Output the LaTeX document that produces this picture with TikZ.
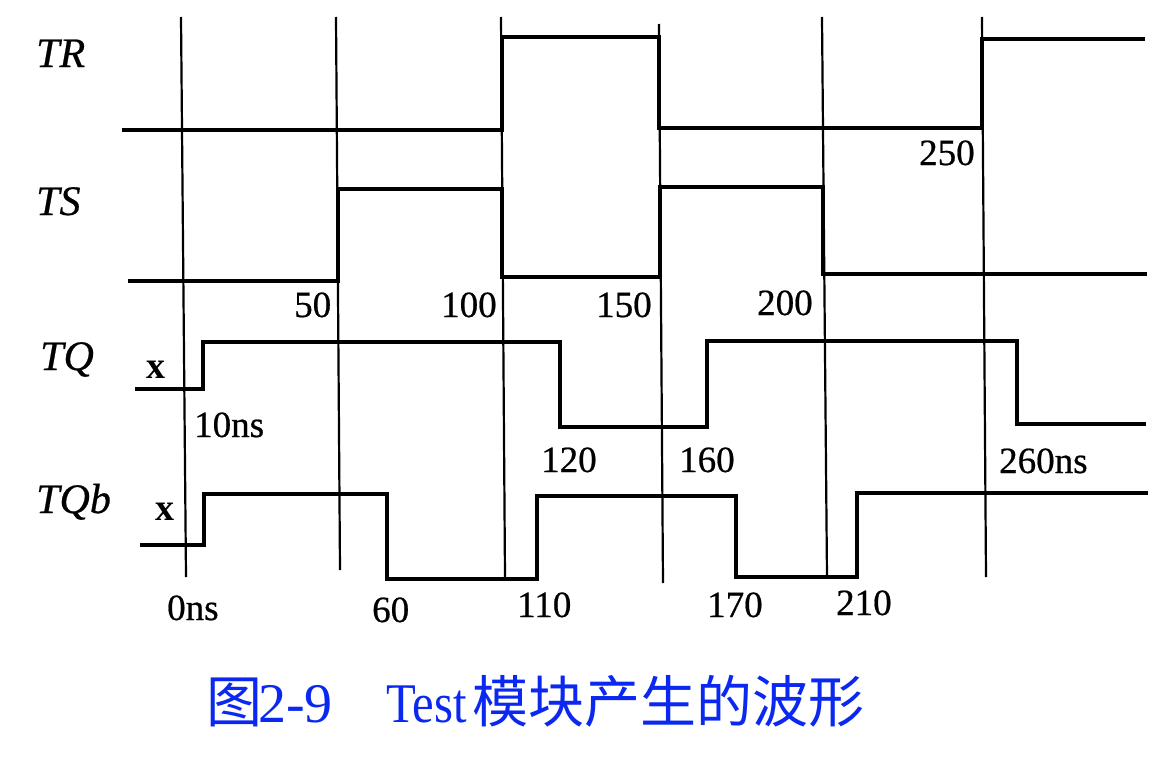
\documentclass[tikz,border=0pt]{standalone}
\usepackage{fontspec}
\setmainfont{Liberation Serif}
\newfontfamily\cjk{Noto Sans CJK SC}
\newfontfamily\lblfont[FakeBold=0.6]{Liberation Serif}
\newfontfamily\capserif{Liberation Serif}
\definecolor{capblue}{RGB}{10,40,240}
\tikzset{
  wave/.style={line width=3.6pt, line join=miter, line cap=butt},
  gridline/.style={line width=2.2pt},
  siglabel/.style={inner sep=0pt, anchor=base west, font=\fontsize{42}{46}\selectfont\lblfont\itshape},
  tlabel/.style={inner sep=0pt, anchor=base west, font=\fontsize{37}{40}\selectfont\lblfont},
  xlabel/.style={inner sep=0pt, anchor=base west, font=\fontsize{38}{40}\selectfont\bfseries},
  caplabel/.style={inner sep=0pt, anchor=base west, text=capblue}
}
\begin{document}
\begin{tikzpicture}[x=1pt,y=-1pt]
\useasboundingbox (0,0) rectangle (1176,768);
% grid lines (slightly slanted as in the scan)
\draw[gridline] (181,17) -- (186,577);
\draw[gridline] (336,17) -- (340,570);
\draw[gridline] (501,17) -- (505,577);
\draw[gridline] (659,24) -- (663,583);
\draw[gridline] (822,17) -- (827,577);
\draw[gridline] (982,17) -- (986,577);
% TR
\draw[wave] (122,130) -- (502,130) -- (502,37) -- (659,37) -- (659,128) -- (982,128) -- (982,39) -- (1145,39);
% TS
\draw[wave] (128,281) -- (338,281) -- (338,189) -- (502,189) -- (502,277) -- (660,277) -- (660,187) -- (823,187) -- (823,274) -- (1147,274);
% TQ
\draw[wave] (135,389) -- (203,389) -- (203,342) -- (560,342) -- (560,427) -- (707,427) -- (707,341) -- (1017,341) -- (1017,424) -- (1146,424);
% TQb
\draw[wave] (140,545) -- (204,545) -- (204,494) -- (387,494) -- (387,579) -- (537,579) -- (537,496) -- (736,496) -- (736,577) -- (857,577) -- (857,493) -- (1148,493);
% signal names
\node[siglabel] (nTR) at (36,67) {TR};
\node[siglabel] (nTS) at (36,215) {TS};
\node[siglabel] (nTQ) at (40,370) {TQ};
\node[siglabel] (nTQb) at (36,513) {TQb};
\node[xlabel] (x1) at (146,378) {x};
\node[xlabel] (x2) at (155,520) {x};
% time labels
\node[tlabel] (t50) at (294,317) {50};
\node[tlabel] (t100) at (441,317) {100};
\node[tlabel] (t150) at (596,317) {150};
\node[tlabel] (t200) at (757,315) {200};
\node[tlabel] (t250) at (919,165) {250};
\node[tlabel] (t10) at (194,437) {10ns};
\node[tlabel] (t120) at (541,472) {120};
\node[tlabel] (t160) at (679,472) {160};
\node[tlabel] (t260) at (999,473) {260ns};
\node[tlabel] (t0) at (167,620) {0ns};
\node[tlabel] (t60) at (372,622) {60};
\node[tlabel] (t110) at (517,617) {110};
\node[tlabel] (t170) at (707,617) {170};
\node[tlabel] (t210) at (836,615) {210};
% caption
\node[caplabel, font=\fontsize{56}{60}\selectfont\cjk] (c1) at (206,722) {图};
\node[caplabel, font=\fontsize{56}{60}\selectfont\capserif] (c2) at (258,722) {2-9};
\node[caplabel, font=\fontsize{56}{60}\selectfont\capserif, xscale=0.87] (c3) at (386,722) {Test};
\node[caplabel, font=\fontsize{56}{60}\selectfont\cjk] (c4) at (472,722) {模块产生的波形};
\end{tikzpicture}
\end{document}
